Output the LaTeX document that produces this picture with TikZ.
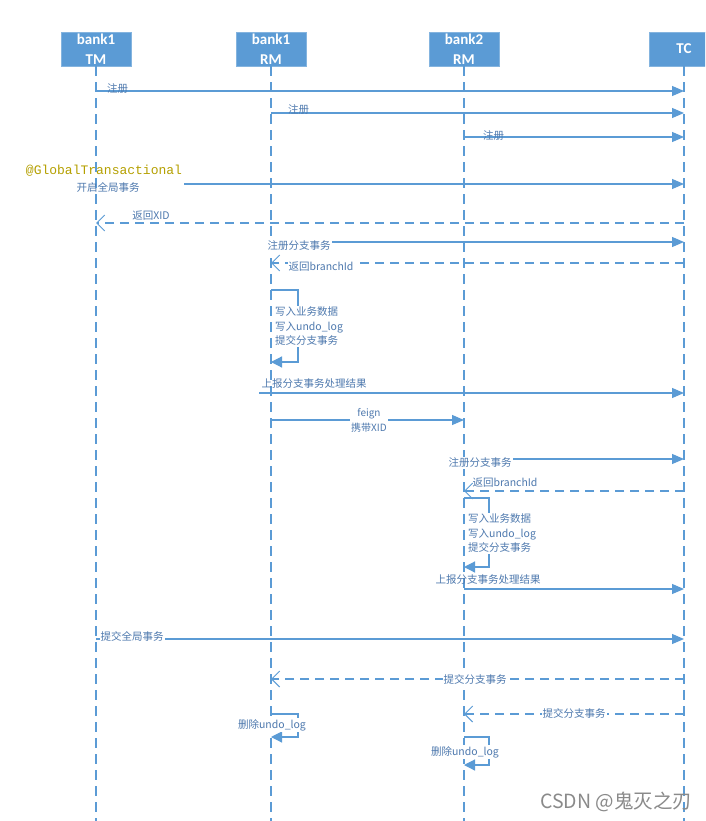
\documentclass[tikz,border=0pt]{standalone}
\usepackage{fontspec}
\setmainfont{Noto Sans CJK SC}
\newfontfamily\hdrfont{Carlito}
\newfontfamily\monofont{Liberation Mono}
\usetikzlibrary{arrows.meta}
\definecolor{lblue}{HTML}{5B9BD5}
\definecolor{ltext}{HTML}{4E79AE}
\definecolor{gold}{HTML}{B5A000}
\definecolor{wm}{HTML}{8A8A8A}
\begin{document}
\begin{tikzpicture}[x=1pt,y=-1pt,
  head/.style={fill=lblue, draw=lblue!75!white, minimum width=70pt, minimum height=34pt,
    text=white, font=\hdrfont\bfseries\fontsize{15}{20}\selectfont, align=center, inner sep=0pt},
  life/.style={lblue, line width=1.6pt, dash pattern=on 10pt off 6pt},
  msg/.style={lblue, line width=1.2pt, -{Triangle[length=12pt,width=10pt]}},
  ret/.style={lblue, line width=1.2pt, dash pattern=on 9pt off 6pt,
    -{Straight Barb[length=8pt,width=16pt,line width=1pt]}},
  lbl/.style={text=ltext, font=\fontsize{10.5}{14.5}\selectfont, inner sep=1pt},
  wlbl/.style={lbl, fill=white},
]
\clip (0,0) rectangle (705,821);
\fill[white] (0,0) rectangle (705,821);

% headers
\node[head] (tm)  at (96,49)  {bank1\\TM};
\node[head] (rm1) at (271,49) {bank1\\RM};
\node[head] (rm2) at (464,49) {bank2\\RM};
\node[head] (tc)  at (684,49) {TC};

% lifelines
\coordinate (tmb)  at (96,821);
\coordinate (rm1b) at (271,821);
\coordinate (rm2b) at (464,821);
\coordinate (tcb)  at (684,821);
\draw[life] (tm.south) -- (tmb);
\draw[life] (rm1.south) -- (rm1b);
\draw[life] (rm2.south) -- (rm2b);
\draw[life] (tc.south) -- (tcb);

% registrations
\draw[msg] (tm |- 0,91) -- (tc |- 0,91);
\node[lbl, anchor=west] (l1) at (106,89) {注册};
\draw[msg] (rm1 |- 0,113) -- (tc |- 0,113);
\node[lbl, anchor=west] (l2) at (287,110) {注册};
\draw[msg] (rm2 |- 0,137) -- (tc |- 0,137);
\node[lbl, anchor=west] (l3) at (482,136) {注册};

% global transaction start
\coordinate (gstart) at (184,184);
\draw[msg] (gstart) -- (tc |- gstart);
\node[text=gold, font=\monofont\fontsize{13}{15}\selectfont, inner sep=0pt] (gt) at (104,171) {@GlobalTransactional};
\node[lbl] (gl) at (108,187) {开启全局事务};

\draw[ret] (tc |- 0,223) -- (tm |- 0,223);
\node[lbl] (xid) at (151,216) {返回XID};

% branch 1
\draw[msg] (rm1 |- 0,242) -- (tc |- 0,242);
\node[wlbl] (rb1) at (299,246) {注册分支事务};
\draw[ret] (tc |- 0,263) -- (rm1 |- 0,263);
\node[wlbl] (bid1) at (321,267) {返回branchId};

\draw[msg, -{Triangle[length=11pt,width=11pt]}] (rm1 |- 0,290) -- (298,290) -- (298,362) -- (rm1 |- 0,362);
\node[wlbl, anchor=west, align=left] (w1) at (274,326.5) {写入业务数据\\写入undo\_log\\提交分支事务};

\coordinate (rep1) at (259,393);
\draw[msg] (rep1) -- (tc |- rep1);
\node[lbl] (rep1l) at (314,384) {上报分支事务处理结果};

% feign
\draw[msg] (rm1 |- 0,420) -- (rm2 |- 0,420);
\node[wlbl, align=center, font=\fontsize{10}{15}\selectfont] (fg) at (369,420) {feign\\携带XID};

% branch 2
\draw[msg] (rm2 |- 0,459) -- (tc |- 0,459);
\node[wlbl] (rb2) at (480,463) {注册分支事务};
\draw[ret] (tc |- 0,491) -- (rm2 |- 0,491);
\node[lbl] (bid2) at (505,483) {返回branchId};

\draw[msg, -{Triangle[length=11pt,width=11pt]}] (rm2 |- 0,498) -- (489,498) -- (489,567) -- (rm2 |- 0,567);
\node[wlbl, anchor=west, align=left] (w2) at (467,533.5) {写入业务数据\\写入undo\_log\\提交分支事务};

\draw[msg] (rm2 |- 0,589) -- (tc |- 0,589);
\node[lbl] (rep2l) at (488,580) {上报分支事务处理结果};

% global commit
\draw[msg] (tm |- 0,639) -- (tc |- 0,639);
\node[wlbl] (gc) at (132,636) {提交全局事务};

\draw[ret] (tc |- 0,679) -- (rm1 |- 0,679);
\node[wlbl] (c1) at (475,679) {提交分支事务};
\draw[ret] (tc |- 0,714) -- (rm2 |- 0,714);
\node[wlbl] (c2) at (574,713) {提交分支事务};

\draw[msg, -{Triangle[length=11pt,width=11pt]}] (rm1 |- 0,714) -- (298,714) -- (298,737) -- (rm1 |- 0,737);
\node[wlbl] (d1) at (272,725) {删除undo\_log};
\draw[msg, -{Triangle[length=11pt,width=11pt]}] (rm2 |- 0,737) -- (489,737) -- (489,765) -- (rm2 |- 0,765);
\node[wlbl] (d2) at (465,752) {删除undo\_log};

% watermark
\node[text=wm, font=\fontsize{19.5}{22}\selectfont, anchor=west, inner sep=0pt] (wmk) at (540,802) {CSDN @鬼灭之刃};
\end{tikzpicture}
\end{document}
